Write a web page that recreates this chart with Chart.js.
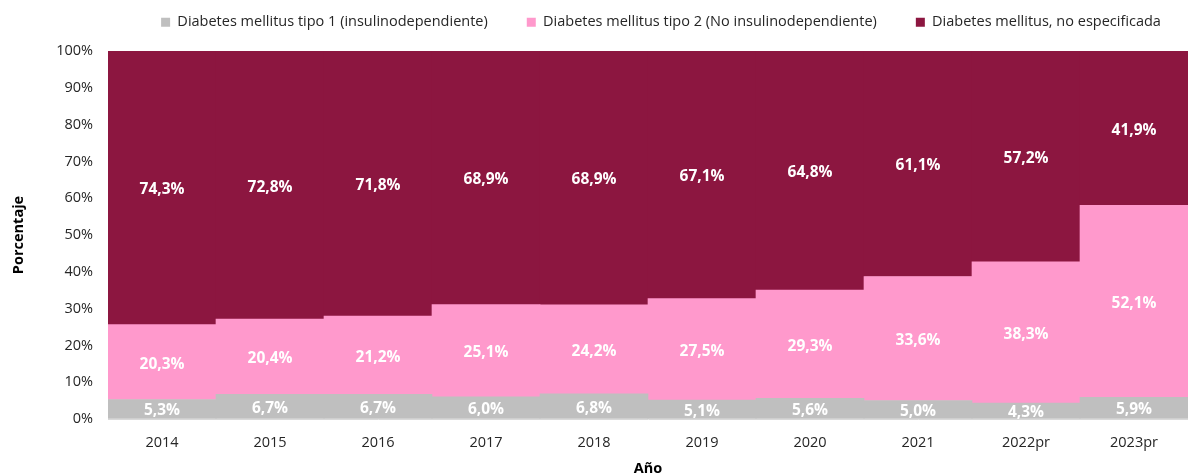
<!DOCTYPE html>
<html>
<head>
<meta charset="utf-8">
<script src="https://cdn.jsdelivr.net/npm/chart.js@4.4.1/dist/chart.umd.min.js"></script>
<style>
  html, body { margin: 0; padding: 0; background: #fff; }
  #wrap { width: 1188px; height: 473px; }
</style>
</head>
<body>
<div id="wrap"><canvas id="chart" width="1188" height="473"></canvas></div>
<script>
// datos (%)
const years = ["2014", "2015", "2016", "2017", "2018", "2019", "2020", "2021", "2022pr", "2023pr"];
const tipo1 = [5.3, 6.7, 6.7, 6.0, 6.8, 5.1, 5.6, 5.0, 4.3, 5.9];
const tipo2 = [20.3, 20.4, 21.2, 25.1, 24.2, 27.5, 29.3, 33.6, 38.3, 52.1];
const noEspecificada = [74.3, 72.8, 71.8, 68.9, 68.9, 67.1, 64.8, 61.1, 57.2, 41.9];
const yTicks = [0, 10, 20, 30, 40, 50, 60, 70, 80, 90, 100];

const FONT = '"Open Sans", "Noto Sans", sans-serif';

// 100% apilado: normaliza cada año a su total
const totals = years.map((_, i) => tipo1[i] + tipo2[i] + noEspecificada[i]);
const norm = (arr) => arr.map((v, i) => (v / totals[i]) * 100);

const fmt = (v) => v.toFixed(1).replace(".", ",") + "%";

const segmentLabels = {
  id: "segmentLabels",
  afterDatasetsDraw(chart) {
    const { ctx, chartArea } = chart;
    ctx.save();
    ctx.beginPath();
    ctx.rect(chartArea.left, chartArea.top, chartArea.right - chartArea.left, chartArea.bottom - chartArea.top);
    ctx.clip();
    ctx.font = "bold 15.5px " + FONT;
    ctx.fillStyle = "#ffffff";
    ctx.textAlign = "center";
    ctx.textBaseline = "middle";
    chart.data.datasets.forEach((ds, di) => {
      const meta = chart.getDatasetMeta(di);
      meta.data.forEach((bar, i) => {
        const y = (bar.y + bar.base) / 2;
        ctx.fillText(fmt(ds.raw[i]), bar.x, y + 2);
      });
    });
    ctx.restore();
  },
};

// leyenda: alto fijo y desplazada, como en el original
const legendTweak = {
  id: "legendTweak",
  beforeLayout(chart) {
    const lg = chart.legend;
    if (lg && !lg._fixed) {
      const fit = lg.fit;
      lg.fit = function () {
        fit.call(this);
        this.height = 50;
      };
      lg._fixed = true;
    }
  },
  afterLayout(chart) {
    if (chart.legend) {
      chart.legend.left += 67;
      chart.legend.right += 67;
      chart.legend.top -= 25;
    }
  },
};

new Chart(document.getElementById("chart"), {
  type: "bar",
  data: {
    labels: years,
    datasets: [
      { label: "Diabetes mellitus tipo 1 (insulinodependiente)", data: norm(tipo1), raw: tipo1, backgroundColor: "#BFBFBF" },
      { label: "Diabetes mellitus tipo 2 (No insulinodependiente)", data: norm(tipo2), raw: tipo2, backgroundColor: "#FF99CC" },
      { label: "Diabetes mellitus, no especificada", data: norm(noEspecificada), raw: noEspecificada, backgroundColor: "#8C1640" },
    ],
  },
  options: {
    responsive: false,
    animation: false,
    layout: { padding: { top: 1, right: 0, bottom: 0, left: 0 } },
    datasets: { bar: { barPercentage: 1, categoryPercentage: 1, borderWidth: 0 } },
    plugins: {
      tooltip: { enabled: false },
      legend: {
        position: "top",
        labels: {
          boxWidth: 9,
          boxHeight: 9,
          padding: 39,
          color: "#262626",
          font: { family: FONT, size: 14.5 },
        },
      },
    },
    scales: {
      x: {
        stacked: true,
        z: 1,
        grid: { display: false, drawTicks: false },
        border: { display: true, color: "#D9D9D9", width: 1 },
        ticks: { color: "#262626", padding: 15, font: { family: FONT, size: 14.5 } },
        title: {
          display: true,
          text: "Año",
          color: "#000",
          font: { family: FONT, size: 14.5, weight: "bold" },
          padding: { top: 0, bottom: -5 },
        },
        afterFit(scale) { scale.height = 54; },
      },
      y: {
        stacked: true,
        min: 0,
        max: 100,
        z: 1,
        afterBuildTicks(scale) { scale.ticks = yTicks.map((v) => ({ value: v })); },
        grid: {
          drawTicks: false,
          color: (c) => (c.tick && c.tick.value === 100 ? "#D9D9D9" : "rgba(0,0,0,0)"),
        },
        border: { display: false },
        ticks: {
          color: "#262626",
          padding: 15,
          font: { family: FONT, size: 14.5 },
          callback: (v) => v + "%",
        },
        title: {
          display: true,
          text: "Porcentaje",
          color: "#000",
          font: { family: FONT, size: 14.5, weight: "bold" },
          padding: { top: 10, bottom: 0 },
        },
        afterFit(scale) { scale.width = 108; },
      },
    },
  },
  plugins: [segmentLabels, legendTweak],
});
</script>
</body>
</html>
